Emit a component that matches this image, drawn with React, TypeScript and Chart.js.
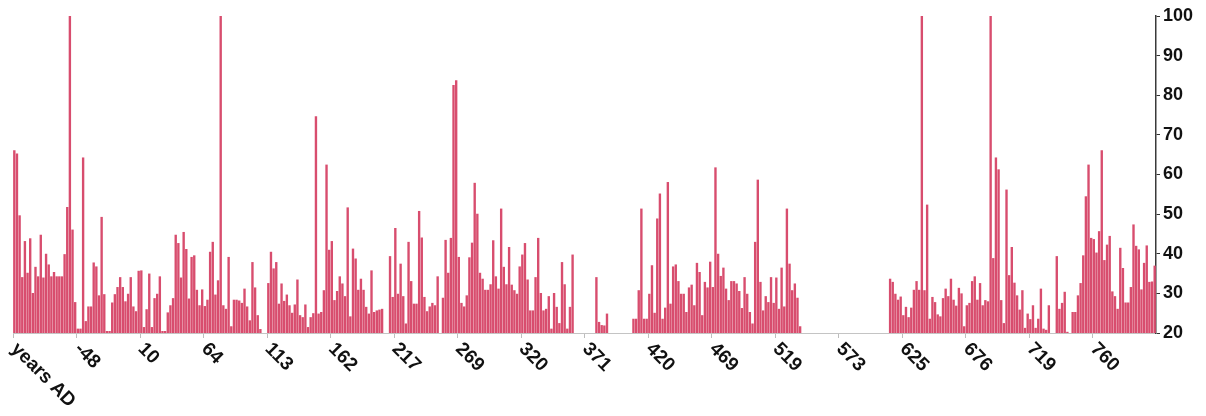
import React, { useEffect, useRef } from 'react';
import { Chart, registerables } from 'chart.js';

Chart.register(...registerables);

// Axis tick labels (one every BARS_PER_TICK categories)
const tickLabels = ['years AD', '-48', '10', '64', '113', '162', '217', '269', '320', '371', '420', '469', '519', '573', '625', '676', '719', '760'];
const BARS_PER_TICK = 24;

// Values per tick interval (24 bars each), null = no bar
const seg00 = [66.1, 65.3, 49.7, 34.1, 43.2, 35.2, 43.9, 30.1, 36.7, 34.3, 44.8, 34.0, 40.0, 37.3, 34.3, 35.4, 34.3, 34.3, 34.3, 39.9, 51.8, 100, 46.1, 27.8];
const seg01 = [21.1, 21.1, 64.3, 23.0, 26.7, 26.7, 37.8, 36.8, 29.5, 49.3, 29.8, 20.5, 20.5, 27.7, 29.8, 31.6, 34.1, 31.6, 28.0, 29.9, 34.1, 26.7, 25.5, 35.7];
const seg02 = [35.8, 21.5, 26.0, 35.0, 21.5, 28.8, 29.9, 34.3, 20.5, 20.5, 25.2, 27.0, 28.8, 44.8, 42.7, 34.0, 45.5, 41.2, 28.7, 39.2, 39.6, 30.9, 27.0, 31.0];
const seg03 = [26.8, 28.4, 40.5, 43.0, 29.7, 33.3, 100, 27.0, 26.1, 39.2, 21.7, 28.4, 28.4, 28.2, 27.6, 31.2, 26.7, 23.2, 37.9, 31.5, 24.5, 21.0, null, null];
const seg04 = [32.6, 40.5, 36.3, 37.9, 27.4, 32.5, 28.1, 29.7, 27.0, 25.1, 27.2, 33.5, 24.5, 24.0, 27.2, 21.5, 24.0, 25.0, 74.7, 24.9, 25.3, 30.8, 62.5, 41.0];
const seg05 = [43.2, 28.3, 30.6, 34.3, 32.5, 29.3, 51.7, 24.2, 41.3, 38.8, 30.9, 33.7, 30.9, 26.6, 24.9, 35.8, 25.3, 25.7, 25.9, 26.1, null, null, 39.4, 29.1];
const seg06 = [46.5, 29.9, 37.5, 29.3, 22.4, 43.0, 33.1, 27.4, 27.4, 50.8, 44.1, 29.1, 25.5, 26.7, 27.6, 27.0, 34.3, null, 28.9, 43.5, 35.2, 44.0, 82.6, 83.8];
const seg07 = [39.2, 27.6, 26.7, 29.5, 39.1, 42.8, 57.9, 50.1, 35.2, 33.7, 30.9, 30.9, 32.3, 43.4, 34.3, 31.2, 51.4, 36.7, 32.3, 41.7, 32.2, 30.8, 29.9, 36.8];
const seg08 = [39.8, 42.7, 33.5, 25.7, 25.7, 34.1, 44.0, 30.1, 25.7, 26.1, 29.3, 21.1, 30.1, 26.6, 22.5, 37.9, 32.3, 21.1, 26.6, 39.8, null, null, null, null];
const seg09 = [null, null, null, null, 34.1, 22.8, 22.0, 21.9, 24.9, null, null, null, null, null, null, null, null, null, 23.6, 23.6, 30.8, 51.4, 23.6, 23.6];
const seg10 = [29.9, 37.1, 25.1, 48.9, 55.2, 23.6, 26.4, 58.1, 27.4, 36.8, 37.3, 33.1, 29.9, 29.9, 25.3, 31.5, 32.2, 27.0, 37.7, 35.4, 24.5, 32.9, 31.5, 38.0];
const seg11 = [31.6, 61.8, 40.0, 34.4, 36.5, 31.2, 28.3, 33.1, 33.1, 32.5, 30.6, 26.3, 34.1, 29.9, 25.3, 22.4, 43.0, 58.7, 32.9, 25.7, 29.3, 27.8, 34.1, 27.6];
const seg12 = [34.0, 26.1, 36.5, 26.7, 51.4, 37.5, 30.8, 32.5, 28.9, 21.7, null, null, null, null, null, null, null, null, null, null, null, null, null, null];
const seg13 = [null, null, null, null, null, null, null, null, null, null, null, null, null, null, null, null, null, null, null, 33.7, 32.9, 29.9, 28.4, 29.2];
const seg14 = [24.5, 26.6, 24.0, 26.4, 30.9, 33.1, 30.9, 100, 30.8, 52.4, 23.6, 29.1, 27.8, 24.7, 24.2, 28.8, 31.2, 29.3, 33.7, 28.4, 26.9, 31.4, 30.0, 21.7];
const seg15 = [27.0, 27.6, 33.1, 34.3, 28.4, 32.6, 27.0, 28.3, 28.0, 100, 38.9, 64.3, 61.3, 28.3, 22.5, 56.2, 34.6, 41.7, 32.7, 29.5, 25.9, 30.8, 21.3, 24.9];
const seg16 = [23.5, 27.0, 21.3, 23.6, 31.2, 21.1, 20.8, 27.0, null, null, 39.4, 26.1, 27.6, 30.4, 20.3, null, 25.3, 25.3, 29.5, 32.6, 39.6, 54.5, 62.5, 44.0];
const seg17 = [43.7, 40.3, 45.7, 66.1, 38.4, 42.3, 44.5, 30.5, 29.3, 26.1, 41.5, 36.4, 27.7, 27.7, 31.6, 47.4, 42.0, 41.1, 31.0, 37.7, 42.1, 32.9, 33.0, 37.0];

const Y_MIN = 20;
const Y_MAX = 100;
const Y_STEP = 10;

export default function App() {
  const ref = useRef<HTMLCanvasElement>(null);

  useEffect(() => {
    document.body.style.margin = '0';
    const values = [
      ...seg00, ...seg01, ...seg02, ...seg03, ...seg04, ...seg05, ...seg06, ...seg07, ...seg08,
      ...seg09, ...seg10, ...seg11, ...seg12, ...seg13, ...seg14, ...seg15, ...seg16, ...seg17,
    ];
    const labels = values.map((_, i) => (i % BARS_PER_TICK === 0 ? tickLabels[i / BARS_PER_TICK] : ''));

    const xLabelPlugin = {
      id: 'rotatedXLabels',
      afterDraw(chart: any) {
        const xs = chart.scales.x;
        const ctx = chart.ctx;
        const half = (xs.getPixelForValue(1) - xs.getPixelForValue(0)) / 2;
        ctx.save();
        ctx.font = 'bold 19px "Liberation Sans", Arial, Helvetica, sans-serif';
        ctx.fillStyle = '#111111';
        ctx.textAlign = 'left';
        ctx.textBaseline = 'middle';
        tickLabels.forEach((t, k) => {
          const x = xs.getPixelForValue(k * BARS_PER_TICK) - half;
          ctx.save();
          ctx.translate(x + 1, xs.top + 13);
          ctx.rotate(Math.PI / 4);
          ctx.fillText(t, 0, 0);
          ctx.restore();
        });
        ctx.restore();
      },
    };

    const chart = new Chart(ref.current as HTMLCanvasElement, {
      type: 'bar',
      data: {
        labels,
        datasets: [
          {
            data: values as any,
            backgroundColor: '#d84d6e',
            borderWidth: 0,
            barPercentage: 1,
            categoryPercentage: 0.9,
          },
        ],
      },
      options: {
        animation: false,
        responsive: true,
        maintainAspectRatio: false,
        layout: { padding: { left: 13, right: 0, top: 16, bottom: 0 } },
        plugins: {
          legend: { display: false },
          tooltip: { enabled: false },
        },
        scales: {
          x: {
            type: 'category',
            offset: true,
            grid: {
              offset: true,
              drawOnChartArea: false,
              drawTicks: true,
              tickLength: 5,
              tickColor: (c: any) => (c.index % BARS_PER_TICK === 0 ? '#bdbdbd' : 'rgba(0,0,0,0)'),
            },
            border: { display: true, color: '#c4c4c4', width: 1 },
            ticks: { display: false, autoSkip: false },
            afterFit: (s: any) => {
              s.height = 83;
            },
          },
          y: {
            position: 'right',
            min: Y_MIN,
            max: Y_MAX,
            grid: {
              drawOnChartArea: false,
              drawTicks: true,
              tickLength: 4,
              tickColor: '#333333',
            },
            border: { display: true, color: '#3a3a3a', width: 1.5 },
            ticks: {
              stepSize: Y_STEP,
              padding: 3,
              color: '#111111',
              font: { family: '"Liberation Sans", Arial, Helvetica, sans-serif', size: 18, weight: 'bold' },
            },
            afterFit: (s: any) => {
              s.width = 50;
            },
          },
        },
      },
      plugins: [xLabelPlugin],
    });
    return () => chart.destroy();
  }, []);

  return (
    <div style={{ position: 'relative', width: 1206, height: 416, background: '#ffffff' }}>
      <canvas ref={ref} />
    </div>
  );
}
